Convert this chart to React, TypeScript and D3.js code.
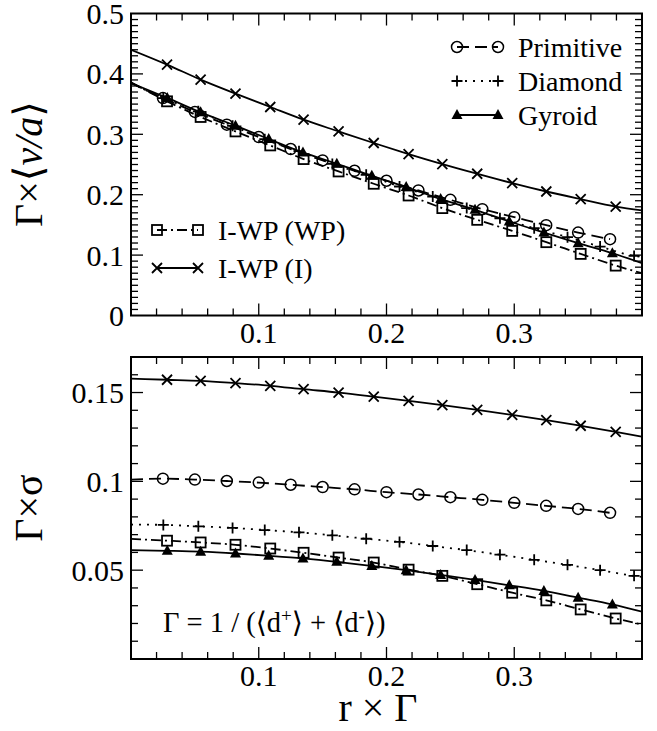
import React from 'react';
import * as d3 from 'd3';

const seriesNames = ['Primitive', 'Diamond', 'Gyroid', 'I-WP (WP)', 'I-WP (I)'];

// r×Γ of the sampled points
const xPrimitive = [0.025, 0.05, 0.075, 0.1, 0.125, 0.15, 0.175, 0.2, 0.225, 0.25, 0.275, 0.3, 0.325, 0.35, 0.375];
const xDiamond = [0.0253, 0.0527, 0.0795, 0.1047, 0.1315, 0.1576, 0.1841, 0.2102, 0.2362, 0.2628, 0.2888, 0.3156, 0.3417, 0.3672, 0.3938];
const xGyroid = [0.0284, 0.0545, 0.0818, 0.1078, 0.1346, 0.1611, 0.1885, 0.2154, 0.2424, 0.2693, 0.2961, 0.3232, 0.35, 0.3768];
const xIWP = [0.0282, 0.0545, 0.0818, 0.109, 0.1351, 0.1625, 0.19, 0.2173, 0.2437, 0.271, 0.2984, 0.3251, 0.352, 0.3794];

// top panel: Γ×<v/a>
const vaPrimitive = [0.36, 0.337, 0.316, 0.2955, 0.2756, 0.2567, 0.2396, 0.2231, 0.207, 0.1915, 0.1761, 0.1628, 0.1495, 0.1373, 0.1264];
const vaDiamond = [0.36, 0.338, 0.314, 0.292, 0.272, 0.251, 0.233, 0.2136, 0.197, 0.1778, 0.161, 0.1446, 0.1297, 0.1141, 0.0987];
const vaGyroid = [0.3602, 0.3363, 0.3143, 0.2922, 0.27, 0.2512, 0.2313, 0.2126, 0.1927, 0.175, 0.1556, 0.1373, 0.1197, 0.1031];
const vaWP = [0.3546, 0.3287, 0.3048, 0.2816, 0.259, 0.2385, 0.2181, 0.1987, 0.1778, 0.1584, 0.1401, 0.1214, 0.102, 0.0826];
const vaI = [0.4154, 0.3905, 0.3673, 0.3452, 0.3242, 0.3048, 0.2856, 0.2673, 0.2507, 0.2347, 0.2192, 0.2053, 0.1927, 0.1804];

// bottom panel: Γ×σ
const sigPrimitive = [0.1015, 0.101, 0.1002, 0.0993, 0.0981, 0.0968, 0.0955, 0.0939, 0.0926, 0.0911, 0.0896, 0.0879, 0.0862, 0.0845, 0.0823];
const sigDiamond = [0.0755, 0.0747, 0.0738, 0.0726, 0.0713, 0.0696, 0.0677, 0.0659, 0.0636, 0.0613, 0.0587, 0.0558, 0.053, 0.05, 0.0468];
const sigGyroid = [0.0609, 0.0604, 0.0594, 0.0581, 0.0566, 0.0547, 0.0524, 0.05, 0.0473, 0.0445, 0.0415, 0.0383, 0.0345, 0.0307];
const sigWP = [0.0666, 0.0656, 0.0643, 0.0622, 0.0598, 0.0571, 0.0543, 0.0503, 0.0468, 0.0421, 0.0373, 0.033, 0.0279, 0.0228];
const sigI = [0.1572, 0.1566, 0.1553, 0.1538, 0.1519, 0.15, 0.1477, 0.1453, 0.1429, 0.1402, 0.1374, 0.1345, 0.1313, 0.1279];

// fitted curves: value at r×Γ = 0 and at the right end of each curve
const fitEndX = [0.375, 0.4, 0.4, 0.4, 0.4];
const vaStart = [0.385, 0.385, 0.385, 0.386, 0.44];
const vaEnd = [0.1264, 0.097, 0.0866, 0.07, 0.174];
const sigStart = [0.101, 0.0757, 0.0613, 0.0676, 0.1578];
const sigEnd = [0.0823, 0.0462, 0.0266, 0.0194, 0.1251];

const xTickLabels = [0.1, 0.2, 0.3];
const vaTickLabels = [0, 0.1, 0.2, 0.3, 0.4, 0.5];
const sigTickLabels = [0.05, 0.1, 0.15];

const xs = [xPrimitive, xDiamond, xGyroid, xIWP, xIWP];
const vaData = [vaPrimitive, vaDiamond, vaGyroid, vaWP, vaI];
const sigData = [sigPrimitive, sigDiamond, sigGyroid, sigWP, sigI];

const dashes = ['12,6', '2,6', null, '10,4,2,4', null];
const markers = ['circle', 'plus', 'triangle', 'square', 'cross'];

const FONT = 'Liberation Serif, Times New Roman, DejaVu Serif, serif';
const LEFT = 131;
const RIGHT = 642;
const PH = 302;

const x = d3.scaleLinear().domain([0, 0.4]).range([LEFT, RIGHT]);

const Marker = ({ type, cx, cy }) => {
  const t = `translate(${cx},${cy})`;
  if (type === 'circle') return <circle cx={cx} cy={cy} r={5.5} fill="none" stroke="#000" strokeWidth={1.5} />;
  if (type === 'square') return <rect x={cx - 5} y={cy - 5} width={10} height={10} fill="none" stroke="#000" strokeWidth={1.8} />;
  if (type === 'triangle') return <path transform={t} d="M0,-6L5.5,4L-5.5,4Z" fill="#000" />;
  if (type === 'plus') return <path transform={t} d="M-5.5,0H5.5M0,-5.5V5.5" stroke="#000" strokeWidth={1.8} />;
  return <path transform={t} d="M-5,-5L5,5M-5,5L5,-5" stroke="#000" strokeWidth={1.8} />;
};

const Panel = ({ top, domainMax, data, starts, ends, majorStep, tickLabels, clipId, children }) => {
  const y = d3.scaleLinear().domain([0, domainMax]).range([top + PH, top]);
  const line = d3.line().x((d) => x(d[0])).y((d) => y(d[1])).curve(d3.curveMonotoneX);
  const xTicks = x.ticks(20).filter((v) => v > 0 && v < 0.4);
  const yTicks = y.ticks(Math.round(domainMax * 100)).filter((v) => v > 0 && v < domainMax - 1e-9);
  const isMajor = (v, step) => Math.abs(v / step - Math.round(v / step)) < 1e-6;
  return (
    <g>
      <defs>
        <clipPath id={clipId}>
          <rect x={LEFT} y={top} width={RIGHT - LEFT} height={PH} />
        </clipPath>
      </defs>
      <g clipPath={`url(#${clipId})`}>
        {data.map((vals, i) => {
          const pts = xs[i].map((xv, j) => [xv, vals[j]]);
          const last = xs[i][xs[i].length - 1];
          const all = [[0, starts[i]], ...pts];
          if (fitEndX[i] > last + 1e-6) all.push([fitEndX[i], ends[i]]);
          return (
            <path key={i} d={line(all)} fill="none" stroke="#000" strokeWidth={1.8}
              strokeDasharray={dashes[i] || undefined} />
          );
        })}
        {data.map((vals, i) =>
          vals.map((v, j) => <Marker key={`${i}-${j}`} type={markers[i]} cx={x(xs[i][j])} cy={y(v)} />)
        )}
      </g>
      {xTicks.map((v) => {
        const len = isMajor(v, 0.1) ? 12 : 7;
        return (
          <g key={`xt${v}`} stroke="#000" strokeWidth={1.3}>
            <line x1={x(v)} x2={x(v)} y1={top + PH} y2={top + PH - len} />
            <line x1={x(v)} x2={x(v)} y1={top} y2={top + len} />
          </g>
        );
      })}
      {yTicks.map((v) => {
        const len = isMajor(v, majorStep) ? 12 : 7;
        return (
          <g key={`yt${v}`} stroke="#000" strokeWidth={1.3}>
            <line x1={LEFT} x2={LEFT + len} y1={y(v)} y2={y(v)} />
            <line x1={RIGHT} x2={RIGHT - len} y1={y(v)} y2={y(v)} />
          </g>
        );
      })}
      <rect x={LEFT} y={top} width={RIGHT - LEFT} height={PH} fill="none" stroke="#000" strokeWidth={2} />
      {tickLabels.map((v) => (
        <text key={`yl${v}`} x={124} y={y(v)} dy="0.35em" textAnchor="end" fontSize={30} fontFamily={FONT}>
          {String(v)}
        </text>
      ))}
      {xTickLabels.map((v) => (
        <text key={`xl${v}`} x={x(v)} y={top + PH + 27} textAnchor="middle" fontSize={30} fontFamily={FONT}>
          {String(v)}
        </text>
      ))}
      {children}
    </g>
  );
};

const LegendRow = ({ i, x1, x2, cy, tx }) => (
  <g>
    <line x1={x1} x2={x2} y1={cy} y2={cy} stroke="#000" strokeWidth={1.8} strokeDasharray={dashes[i] || undefined} />
    <Marker type={markers[i]} cx={x1} cy={cy} />
    <Marker type={markers[i]} cx={x2} cy={cy} />
    <text x={tx} y={cy} dy="0.35em" fontSize={28} fontFamily={FONT}>{seriesNames[i]}</text>
  </g>
);

export default function App() {
  return (
    <svg width={657} height={731} style={{ position: 'absolute', left: 0, top: 0, background: '#fff' }}>
      <Panel top={13.5} domainMax={0.5} data={vaData} starts={vaStart} ends={vaEnd} majorStep={0.1}
        tickLabels={vaTickLabels} clipId="clipTop">
        <LegendRow i={0} x1={457} x2={498} cy={47} tx={518} />
        <LegendRow i={1} x1={457} x2={498} cy={81} tx={518} />
        <LegendRow i={2} x1={457} x2={498} cy={115} tx={518} />
        <LegendRow i={3} x1={157} x2={198} cy={230} tx={218} />
        <LegendRow i={4} x1={157} x2={198} cy={268} tx={218} />
      </Panel>
      <Panel top={357} domainMax={0.17} data={sigData} starts={sigStart} ends={sigEnd} majorStep={0.05}
        tickLabels={sigTickLabels} clipId="clipBottom">
        <text x={163} y={632} fontSize={28.5} fontFamily={FONT}>
          Γ = 1 / (⟨d<tspan baseline-shift="super" fontSize={19}>+</tspan>⟩ + ⟨d<tspan baseline-shift="super" fontSize={19}>-</tspan>⟩)
        </text>
      </Panel>
      <text transform="translate(42,164) rotate(-90)" textAnchor="middle" fontSize={40} fontFamily={FONT}>
        Γ×⟨<tspan fontStyle="italic">v/a</tspan>⟩
      </text>
      <text transform="translate(42,508) rotate(-90)" textAnchor="middle" fontSize={40} fontFamily={FONT}>
        Γ×σ
      </text>
      <text x={378} y={721} textAnchor="middle" fontSize={40} fontFamily={FONT}>
        r × Γ
      </text>
    </svg>
  );
}
